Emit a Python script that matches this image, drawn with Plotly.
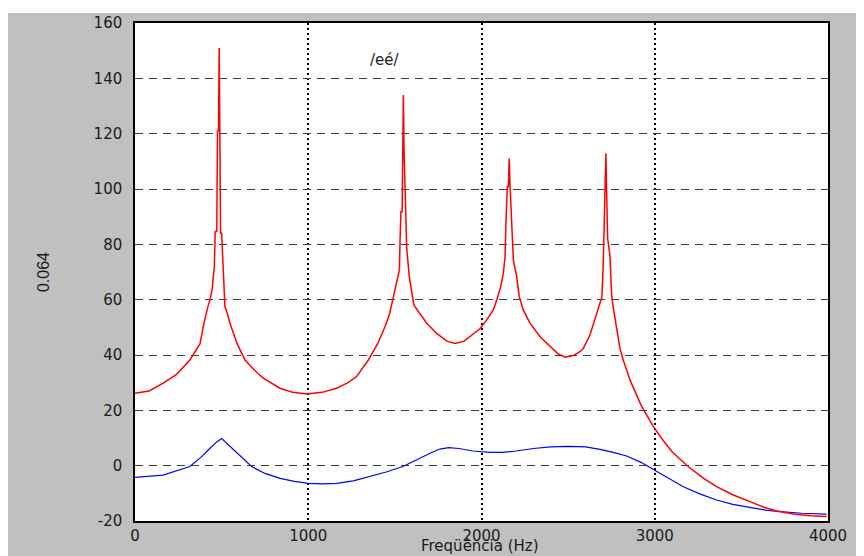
import plotly.graph_objects as go

# Red (LPC envelope) series: frequency (Hz) and magnitude
red_freq = [0, 80, 163, 240, 317, 375, 398, 410, 421, 433, 446, 452, 458, 463, 472, 476, 482, 486, 490,
            494, 500, 506, 512, 519, 533, 548, 590, 635, 690, 741, 837, 910, 991, 1080, 1164, 1230, 1279,
            1347, 1400, 1443, 1470, 1487, 1500, 1512, 1526, 1530, 1535, 1542, 1545, 1549, 1553, 1560, 1568,
            1583, 1597, 1610, 1684, 1741, 1800, 1847, 1900, 1934, 1991, 2030, 2068, 2088, 2111, 2126, 2136,
            2141, 2149, 2155, 2160, 2165, 2176, 2184, 2203, 2218, 2241, 2280, 2338, 2395, 2440, 2482, 2530,
            2568, 2588, 2626, 2655, 2680, 2695, 2702, 2707, 2712, 2718, 2723, 2728, 2742, 2751, 2761, 2780,
            2799, 2818, 2847, 2857, 2920, 2992, 3050, 3100, 3194, 3280, 3357, 3450, 3550, 3630, 3704, 3800,
            3900, 3992]
red_vals = [26.2, 27, 29.8, 33, 38.2, 44, 51.5, 55, 57.5, 60, 64, 68.3, 72, 84.6, 84.6, 121, 121, 151, 121,
            84, 84, 74, 64, 57.5, 55, 51.5, 44, 38.2, 34.5, 31.6, 28, 26.5, 25.9, 26.5, 28, 30, 32.2,
            38.2, 44, 50.2, 55, 59.9, 64, 68, 70.8, 81.6, 91.8, 91.8, 114, 134, 114, 91.8, 79,
            68.3, 63, 58, 51.5, 47.8, 45, 44.2, 45, 46.6, 49.5, 52.7, 56.3, 59.9, 64.7, 69.5, 75.5,
            87.6, 100.8, 100.8, 111, 100.8, 87.6, 74.3, 68.3, 61, 56.3, 51.5, 46.6, 43, 40.5, 39.2, 39.8,
            41.2, 42.4, 47.2, 52.7, 57.5, 61, 71.3, 82.2, 96.6, 112.9, 96.6, 82.2, 75.5, 61.7, 56.9, 49,
            42.4, 38.2, 32.2, 31, 22, 14.1, 9, 5, -0.4, -4.5, -7.6, -10.5, -13, -15, -16.4, -17.5,
            -18.1, -18.4]

# Blue series
blue_freq = [0, 162, 317, 380, 433, 470, 500, 530, 587, 673, 750, 837, 920, 1000, 1080, 1164, 1260, 1356,
             1450, 1547, 1630, 1703, 1760, 1810, 1870, 1950, 2050, 2120, 2200, 2300, 2400, 2500, 2600,
             2684, 2760, 2838, 2920, 2992, 3080, 3165, 3260, 3357, 3450, 3550, 3640, 3723, 3850, 3992]
blue_vals = [-4.2, -3.4, -0.3, 3, 6.3, 8.5, 9.8, 8, 4.5, -0.3, -2.8, -4.6, -5.7, -6.4, -6.6, -6.4, -5.5, -4,
             -2.3, -0.3, 2.3, 4.5, 6, 6.5, 6.2, 5.3, 4.8, 4.8, 5.3, 6.2, 6.8, 7, 6.8,
             5.9, 4.8, 3.5, 1.2, -1.3, -4.5, -7.6, -10.2, -12.4, -14, -15.2, -16.1, -16.6, -17.2, -17.5]

x_ticks = [0, 1000, 2000, 3000, 4000]
y_ticks = [-20, 0, 20, 40, 60, 80, 100, 120, 140, 160]

# The page body adds an 8px offset, so the figure is drawn 8px smaller
W, H = 856, 548
L, R, T, B = 127, 36, 15, 35
pw, ph = W - L - R, H - T - B

def px_x(p):
    return (p - L) / pw

def px_y(p):
    return (H - B - p) / ph

fig = go.Figure()
fig.add_trace(go.Scatter(x=blue_freq, y=blue_vals, mode="lines",
                         line=dict(color="#0000ff", width=1.2), showlegend=False))
fig.add_trace(go.Scatter(x=red_freq, y=red_vals, mode="lines",
                         line=dict(color="#ff0000", width=1.5), showlegend=False))

tickfont = dict(family="DejaVu Sans, Liberation Sans, Arial", size=15, color="#1a1a1a")

fig.update_layout(
    width=W, height=H,
    margin=dict(l=L, r=R, t=T, b=B, pad=0, autoexpand=False),
    paper_bgcolor="#c0c0c0",
    plot_bgcolor="#ffffff",
    xaxis=dict(range=[0, 4000], tickvals=x_ticks, ticktext=[str(v) for v in x_ticks],
               showgrid=True, gridcolor="#000000", gridwidth=2, griddash="2px,3px",
               showline=True, linecolor="#000000", linewidth=1.5, mirror=True,
               zeroline=False, ticks="", tickfont=tickfont, ticklabelstandoff=0,
               automargin=False),
    yaxis=dict(range=[-20, 160], tickvals=y_ticks, ticktext=[str(v) for v in y_ticks],
               showgrid=True, gridcolor="#404040", gridwidth=1, griddash="8px,6px",
               showline=True, linecolor="#000000", linewidth=1.5, mirror=True,
               zeroline=False, ticks="", tickfont=tickfont, ticklabelstandoff=8,
               automargin=False,
               title=dict(text="0.064", standoff=40,
                          font=dict(family="Liberation Sans, Arial", size=16, color="#1a1a1a"))),
    shapes=[
        dict(type="rect", xref="paper", yref="paper", x0=-0.3, x1=1.3, y0=px_y(5), y1=px_y(-2),
             fillcolor="#ffffff", line=dict(width=0), layer="above"),
    ],
    annotations=[
        dict(text="/eé/", x=1443, y=146.5, xref="x", yref="y", showarrow=False,
             font=dict(family="DejaVu Sans, Liberation Sans, Arial", size=15, color="#222222")),
        dict(text="Freqüência (Hz)", x=px_x(472), y=px_y(548), xref="paper", yref="paper",
             xanchor="center", yanchor="bottom", showarrow=False, borderpad=0,
             font=dict(family="DejaVu Sans, Liberation Sans, Arial", size=15, color="#1a1a1a")),
    ],
)

fig.write_html("out.html")
